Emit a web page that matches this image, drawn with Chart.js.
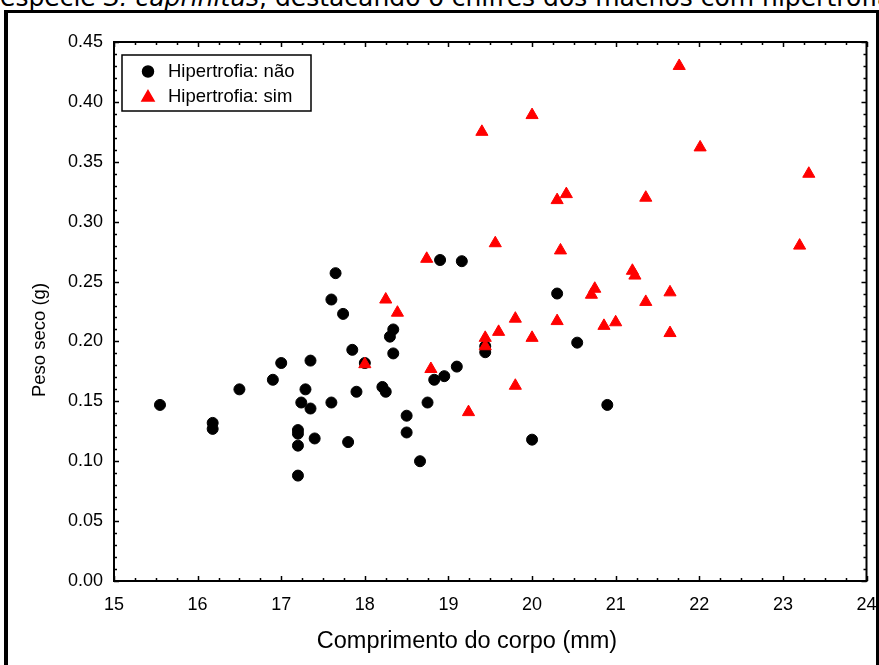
<!DOCTYPE html>
<html>
<head>
<meta charset="utf-8">
<script src="https://cdn.jsdelivr.net/npm/chart.js@4/dist/chart.umd.min.js"></script>
<style>
  html, body { margin: 0; padding: 0; background: #fff; width: 879px; height: 665px; overflow: hidden; }
  #wrap { position: relative; width: 879px; height: 665px; overflow: hidden; }
  #caption { position: absolute; left: 0; top: -17px; white-space: nowrap; font-family: "DejaVu Sans", Verdana, sans-serif; font-size: 25px; line-height: normal; color: #000; }
  #frame { position: absolute; left: 4px; top: 10px; width: 868px; height: 700px; border-left: 4px solid #000; border-top: 3px solid #000; border-right: 3px solid #000; pointer-events: none; z-index: 2; }
  canvas { position: absolute; left: 0; top: 0; z-index: 1; }
</style>
</head>
<body>
<div id="wrap">
  <div id="caption">espécie <i>S. caprinitus</i>, destacando o chifres dos machos com hipertrofia</div>
  <div id="frame"></div>
  <canvas id="c" width="879" height="665"></canvas>
</div>
<script>
// ---- data ----
const seriesNames = ['Hipertrofia: não', 'Hipertrofia: sim'];

const xNao = [15.55, 16.18, 16.18, 16.50, 16.90, 17.00, 17.20, 17.20, 17.20, 17.20,
              17.24, 17.29, 17.35, 17.35, 17.40, 17.60, 17.60, 17.65, 17.74, 17.80,
              17.85, 17.90, 18.00, 18.21, 18.25, 18.30, 18.34, 18.34, 18.50, 18.50,
              18.66, 18.75, 18.83, 18.90, 18.95, 19.10, 19.16, 19.44, 19.44, 20.00,
              20.30, 20.54, 20.90];
const yNao = [0.147, 0.132, 0.127, 0.160, 0.168, 0.182, 0.126, 0.123, 0.113, 0.088,
              0.149, 0.160, 0.144, 0.184, 0.119, 0.149, 0.235, 0.257, 0.223, 0.116,
              0.193, 0.158, 0.182, 0.162, 0.158, 0.204, 0.210, 0.190, 0.138, 0.124,
              0.100, 0.149, 0.168, 0.268, 0.171, 0.179, 0.267, 0.196, 0.191, 0.118,
              0.240, 0.199, 0.147];

const xSim = [18.00, 18.25, 18.39, 18.74, 18.79, 19.24, 19.40, 19.44, 19.44, 19.56,
              19.60, 19.80, 19.80, 20.00, 20.00, 20.30, 20.30, 20.34, 20.41, 20.71,
              20.75, 20.86, 21.00, 21.20, 21.23, 21.36, 21.36, 21.65, 21.65, 21.76,
              22.01, 23.20, 23.31];
const ySim = [0.181, 0.235, 0.224, 0.269, 0.177, 0.141, 0.375, 0.203, 0.196, 0.282,
              0.208, 0.219, 0.163, 0.389, 0.203, 0.318, 0.217, 0.276, 0.323, 0.239,
              0.244, 0.213, 0.216, 0.259, 0.255, 0.320, 0.233, 0.241, 0.207, 0.430,
              0.362, 0.280, 0.340];

const xTickLabels = ['15', '16', '17', '18', '19', '20', '21', '22', '23', '24'];
const yTickLabels = ['0.00', '0.05', '0.10', '0.15', '0.20', '0.25', '0.30', '0.35', '0.40', '0.45'];
const xTitle = 'Comprimento do corpo (mm)';
const yTitle = 'Peso seco (g)';
// --------------------------------------

const toPoints = (xs, ys) => xs.map((x, i) => ({ x: x, y: ys[i] }));

const xMin = Number(xTickLabels[0]), xMax = Number(xTickLabels[xTickLabels.length - 1]);
const yMin = Number(yTickLabels[0]), yMax = Number(yTickLabels[yTickLabels.length - 1]);
const FONT = '"Liberation Sans", Arial, sans-serif';

const decorPlugin = {
  id: 'decor',
  afterDraw(chart) {
    const { ctx, chartArea: a, scales } = chart;
    const xs = scales.x, ys = scales.y;
    ctx.save();
    ctx.strokeStyle = '#000';
    // inward ticks on all four sides
    ctx.lineWidth = 1.5;
    ctx.beginPath();
    for (let k = 0; k <= (xMax - xMin) * 4; k++) {
      const v = xMin + k * 0.25;
      const len = (k % 4 === 0) ? 5 : 3;
      const px = Math.round(xs.getPixelForValue(v)) + 0.5;
      ctx.moveTo(px, a.bottom); ctx.lineTo(px, a.bottom - len);
      ctx.moveTo(px, a.top); ctx.lineTo(px, a.top + len);
    }
    for (let k = 0; k <= Math.round((yMax - yMin) * 100); k++) {
      const v = yMin + k * 0.01;
      const len = (k % 5 === 0) ? 5 : 3;
      const py = Math.round(ys.getPixelForValue(v)) + 0.5;
      ctx.moveTo(a.left, py); ctx.lineTo(a.left + len, py);
      ctx.moveTo(a.right, py); ctx.lineTo(a.right - len, py);
    }
    ctx.stroke();
    // plot border
    ctx.lineWidth = 2;
    ctx.strokeRect(a.left, a.top, a.right - a.left, a.bottom - a.top);

    // axis titles
    ctx.fillStyle = '#000';
    ctx.textAlign = 'center';
    ctx.textBaseline = 'middle';
    ctx.font = '23.5px ' + FONT;
    ctx.fillText(xTitle, 467, 642);
    ctx.save();
    ctx.translate(40, 340);
    ctx.rotate(-Math.PI / 2);
    ctx.font = '18.5px ' + FONT;
    ctx.fillText(yTitle, 0, 0);
    ctx.restore();

    // legend box
    const lx = 122, ly = 55, lw = 189, lh = 56;
    ctx.lineWidth = 1.5;
    ctx.fillStyle = '#fff';
    ctx.fillRect(lx, ly, lw, lh);
    ctx.strokeRect(lx, ly, lw, lh);
    const rows = [71.5, 96.5];
    chart.data.datasets.forEach((ds, i) => {
      const cy = rows[i];
      ctx.fillStyle = ds.backgroundColor;
      ctx.strokeStyle = ds.borderColor;
      Chart.helpers.drawPoint(ctx, {
        pointStyle: ds.pointStyle, radius: ds.pointRadius, rotation: 0, borderWidth: ds.borderWidth
      }, 148, ds.pointStyle === 'triangle' ? cy + 1 : cy);
      ctx.fillStyle = '#000';
      ctx.font = '18.5px ' + FONT;
      ctx.textBaseline = 'middle';
      ctx.textAlign = 'left';
      ctx.fillText(ds.label, 168, cy + 0.5);
    });
    ctx.restore();
  }
};

new Chart(document.getElementById('c'), {
  type: 'scatter',
  data: {
    datasets: [
      {
        label: seriesNames[0],
        data: toPoints(xNao, yNao),
        pointStyle: 'circle',
        pointRadius: 5.5,
        borderWidth: 1,
        backgroundColor: '#000000',
        borderColor: '#000000',
        order: 2
      },
      {
        label: seriesNames[1],
        data: toPoints(xSim, ySim),
        pointStyle: 'triangle',
        pointRadius: 7,
        borderWidth: 1,
        backgroundColor: '#ff0000',
        borderColor: '#ff0000',
        order: 1
      }
    ]
  },
  options: {
    responsive: false,
    animation: false,
    events: [],
    layout: { padding: { left: 0, top: 42, right: 12.5, bottom: 0 } },
    plugins: {
      legend: { display: false },
      tooltip: { enabled: false },
      title: { display: false }
    },
    scales: {
      x: {
        type: 'linear',
        min: xMin, max: xMax,
        afterFit(scale) { scale.height = 84; scale.paddingLeft = 0; scale.paddingRight = 0; },
        grid: { display: false, drawTicks: false },
        border: { display: false },
        ticks: {
          stepSize: 1,
          padding: 13,
          color: '#000',
          font: { family: FONT, size: 18 },
          callback: (v) => { const i = xTickLabels.indexOf(String(v)); return i >= 0 ? xTickLabels[i] : ''; }
        },
        title: { display: false }
      },
      y: {
        type: 'linear',
        min: yMin, max: yMax,
        afterFit(scale) { scale.width = 114; },
        grid: { display: false, drawTicks: false },
        border: { display: false },
        ticks: {
          stepSize: 0.05,
          padding: 11,
          color: '#000',
          font: { family: FONT, size: 18 },
          callback: (v) => yTickLabels[Math.round(v / 0.05)] || ''
        },
        title: { display: false }
      }
    }
  },
  plugins: [decorPlugin]
});
</script>
</body>
</html>
